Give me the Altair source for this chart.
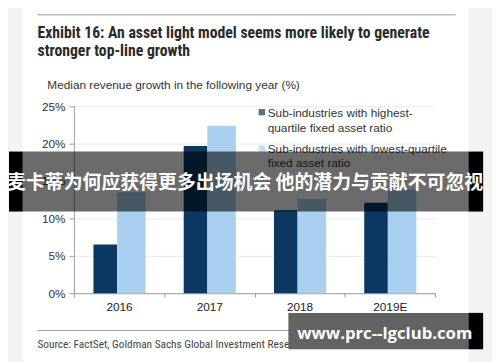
import altair as alt
import pandas as pd

years = ["2016", "2017", "2018", "2019E"]
series = ["Sub-industries with highest-quartile fixed asset ratio",
          "Sub-industries with lowest-quartile fixed asset ratio"]
highest = [6.5, 19.7, 11.1, 12.1]
lowest = [13.5, 22.4, 12.6, 13.9]
colors = ["#0b3763", "#a9d1ef"]
y_ticks = [0, 5, 10, 15, 20, 25]

title_lines = ["Exhibit 16: An asset light model seems more likely to generate",
               "stronger top-line growth"]
subtitle = "Median revenue growth in the following year (%)"
source = "Source: FactSet, Goldman Sachs Global Investment Research"
legend_lines = [["Sub-industries with highest-", "quartile fixed asset ratio"],
                ["Sub-industries with lowest-quartile", "fixed asset ratio"]]
banner_text = "麦卡蒂为何应获得更多出场机会 他的潜力与贡献不可忽视"
watermark = "www.prc--lgclub.com"

df = pd.DataFrame({"year": years, "highest": highest, "lowest": lowest})

W, H = 367, 190
one = pd.DataFrame({"k": [0]})
NARROW = "'Arial Narrow', 'Roboto Condensed', sans-serif"

x_axis = alt.Axis(labelAngle=0, tickBand="extent", tickSize=4, labelPadding=5,
                  domainColor="#9a9a9a", tickColor="#9a9a9a", labelColor="#222222",
                  labelFont="Liberation Sans", labelFontSize=12, grid=False)
y_axis = alt.Axis(values=y_ticks, labelExpr="datum.value + '%'", tickSize=5,
                  labelPadding=4, domainColor="#9a9a9a", tickColor="#9a9a9a",
                  labelColor="#333333", labelFont="Liberation Sans", labelFontSize=12,
                  gridColor="#e9e9e9")
xs = alt.X("year:N", sort=years, title=None,
           scale=alt.Scale(paddingInner=0, paddingOuter=0), axis=x_axis)
y_scale = alt.Scale(domain=[0, 25], nice=False)

base = alt.Chart(df)
dark = base.mark_bar(width=24, xOffset=-14, color=colors[0]).encode(
    x=xs, y=alt.Y("highest:Q", title=None, scale=y_scale, axis=y_axis))
light = base.mark_bar(width=29, xOffset=12.5, color=colors[1]).encode(
    x=xs, y=alt.Y("lowest:Q", title=None, scale=y_scale, axis=y_axis))


def txt(text, x, y, size, font="Liberation Sans", weight="normal", color="#333333",
        align="left", baseline="middle"):
    return alt.Chart(one).mark_text(font=font, fontSize=size, fontWeight=weight, color=color,
                                    align=align, baseline=baseline).encode(
        x=alt.value(x), y=alt.value(y), text=alt.value(text))


def rect(x, x2, y, y2, color, opacity=1.0):
    return alt.Chart(one).mark_rect(color=color, opacity=opacity).encode(
        x=alt.value(x), x2=alt.value(x2), y=alt.value(y), y2=alt.value(y2))


# coordinates below are relative to plot origin (page x 75, y 105)
layers = [
    rect(-83, -52, -113, 265, "#f3f3f3"),
    rect(401, 430, -113, 265, "#f3f3f3"),
    alt.Chart(one).mark_rule(color="#9a9a9a", strokeWidth=1).encode(
        x=alt.value(-37), x2=alt.value(388), y=alt.value(-93)),
    txt(title_lines[0], -37, -69, 16, font=NARROW, weight="bold",
        color="#2a2a2a", baseline="alphabetic"),
    txt(title_lines[1], -37, -51, 16, font=NARROW, weight="bold",
        color="#2a2a2a", baseline="alphabetic"),
    txt(subtitle, -27, -22, 12, color="#333333"),
    dark, light,
    alt.Chart(one).mark_square(size=42, color=colors[0]).encode(
        x=alt.value(191), y=alt.value(6)),
    txt(legend_lines[0][0], 197, 7, 12, color="#333333"),
    txt(legend_lines[0][1], 197, 22, 12, color="#333333"),
    alt.Chart(one).mark_square(size=42, color=colors[1]).encode(
        x=alt.value(191), y=alt.value(43)),
    txt(legend_lines[1][0], 197, 43, 12, color="#333333"),
    txt(legend_lines[1][1], 197, 58, 12, color="#333333"),
    alt.Chart(one).mark_rule(color="#9a9a9a", strokeWidth=1).encode(
        x=alt.value(-37), x2=alt.value(388), y=alt.value(228)),
    txt(source, -37, 243, 11.5, font=NARROW, color="#444444"),
    # banner
    rect(-66, -52, 46, 107, "#000000"),
    rect(401, 416, 46, 107, "#000000"),
    rect(-52, 401, 46, 107, "#000000", 0.58),
    txt(banner_text, 174, 78, 19.2, font="Noto Sans CJK SC", weight="bold",
        color="#ffffff", align="center"),
    # watermark
    rect(218, 401, 210, 247, "#636363"),
    rect(401, 416, 210, 247, "#000000"),
    txt(watermark, 316, 232, 17, font="Open Sans", weight="bold",
        color="#ffffff", align="center"),
]

chart = alt.layer(*layers).properties(
    width=W, height=H,
    autosize=alt.AutoSizeParams(type="none"),
    padding={"left": 67, "top": 97, "right": 58, "bottom": 67},
    background="#ffffff",
).configure_view(stroke=None)

chart.save("out.html", embed_options={"renderer": "svg", "actions": False})
